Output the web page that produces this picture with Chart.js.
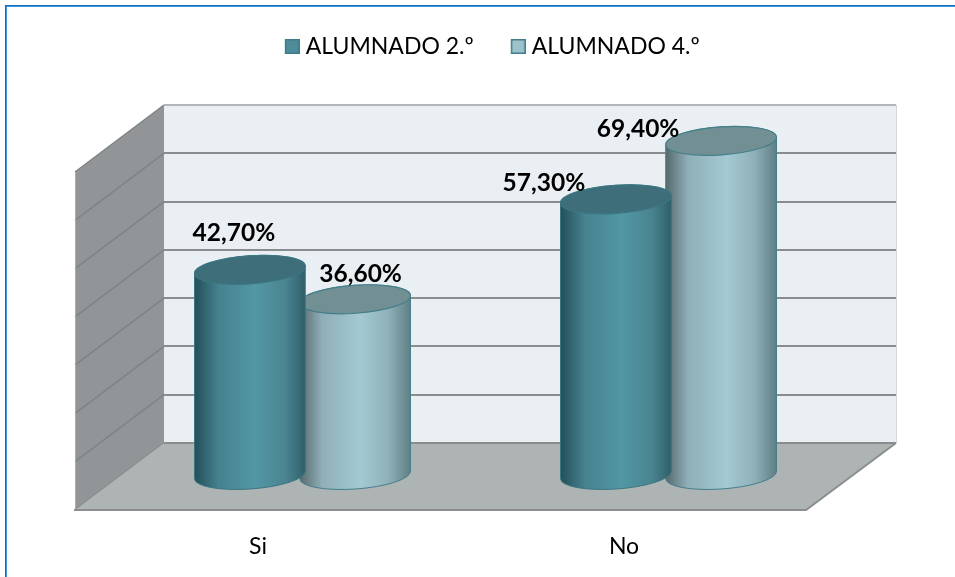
<!DOCTYPE html>
<html><head><meta charset="utf-8">
<script src="https://cdn.jsdelivr.net/npm/chart.js@4"></script>
<style>html,body{margin:0;padding:0;background:#fff}#w{position:relative;width:955px;height:577px}</style>
</head><body><div id="w"><canvas id="c" width="955" height="577"></canvas></div>
<script>
const categories = ['Si', 'No'];
const seriesNames = ['ALUMNADO 2.º', 'ALUMNADO 4.º'];
const alumnado2 = [42.7, 57.3];
const alumnado4 = [36.6, 69.4];
const yTicks = [0, 10, 20, 30, 40, 50, 60, 70];

const DEPTH_X = 89, DEPTH_Y = 67;           // wall depth
const BAR_X = -44.5, BAR_Y = 33;            // bars stand halfway along the floor
const RX_SCALE = 1.055, RY = 14, TILT = -0.07;
const LABEL_SHIFT = [[[-16, -37], [-72, -16.5]], [[5.5, -25], [-83, -11.5]]];
const FILLS = [
  {top:'#3e6e7a', stroke:'#3c7682', g:[[0,'#234f59'],[.22,'#468290'],[.55,'#5297a4'],[.82,'#4a8491'],[1,'#2f5f69']]},
  {top:'#728f94', stroke:'#437f8b', g:[[0,'#56696c'],[.2,'#8faeb8'],[.55,'#a3c9d2'],[.8,'#90b0b9'],[1,'#5f7f85']]}
];
const LEGEND_FILL = ['#4f8c99', '#9cc3cb'];
const LEGEND_EDGE = ['#3d7c88', '#437f8b'];

// legend swatch: 15px square sitting in the right part of a wider transparent image
function swatch(fill, edge) {
  const cv = document.createElement('canvas');
  cv.width = 26; cv.height = 15;
  const c = cv.getContext('2d');
  c.fillStyle = fill; c.fillRect(11, 0, 15, 15);
  c.strokeStyle = edge; c.lineWidth = 1.5; c.strokeRect(11.75, .75, 13.5, 13.5);
  return cv;
}

const scene = {
  id: 'scene',
  afterLayout(chart) { chart.legend.top -= 37; chart.legend.bottom -= 37; },
  beforeDraw(chart) {
    const {ctx, chartArea: a, scales: {y}} = chart;
    ctx.save();
    ctx.fillStyle = '#e9eff2';
    ctx.fillRect(a.left, a.top, a.right - a.left, a.bottom - a.top);
    ctx.fillStyle = '#929597';
    ctx.beginPath();
    ctx.moveTo(a.left, a.top); ctx.lineTo(a.left - DEPTH_X, a.top + DEPTH_Y);
    ctx.lineTo(a.left - DEPTH_X, a.bottom + DEPTH_Y); ctx.lineTo(a.left, a.bottom);
    ctx.closePath(); ctx.fill();
    ctx.strokeStyle = '#7f8385'; ctx.lineWidth = 1.5;
    yTicks.forEach(v => {
      const p = y.getPixelForValue(v);
      ctx.beginPath(); ctx.moveTo(a.left, p); ctx.lineTo(a.left - DEPTH_X, p + DEPTH_Y); ctx.stroke();
    });
    ctx.strokeStyle = '#a9adae'; ctx.lineWidth = 1;
    ctx.beginPath(); ctx.moveTo(a.left - DEPTH_X + .5, a.top + DEPTH_Y); ctx.lineTo(a.left - DEPTH_X + .5, a.bottom + DEPTH_Y); ctx.stroke();
    ctx.strokeStyle = '#d5d8da';
    ctx.beginPath(); ctx.moveTo(a.right + .5, a.top); ctx.lineTo(a.right + .5, a.bottom); ctx.stroke();
    ctx.fillStyle = '#aeb3b3';
    ctx.beginPath();
    ctx.moveTo(a.left, a.bottom); ctx.lineTo(a.right, a.bottom);
    ctx.lineTo(a.right - DEPTH_X - 1, a.bottom + DEPTH_Y); ctx.lineTo(a.left - DEPTH_X, a.bottom + DEPTH_Y);
    ctx.closePath(); ctx.fill();
    ctx.strokeStyle = '#8b8e8f'; ctx.lineWidth = 2;
    ctx.beginPath();
    ctx.moveTo(a.right, a.bottom); ctx.lineTo(a.right - DEPTH_X - 1, a.bottom + DEPTH_Y);
    ctx.lineTo(a.left - DEPTH_X - 1, a.bottom + DEPTH_Y); ctx.stroke();
    ctx.restore();
  },
  beforeDatasetDraw(chart, args) {
    const {ctx} = chart, f = FILLS[args.index];
    args.meta.data.forEach(bar => {
      const cx = bar.x + BAR_X, yt = bar.y + BAR_Y, yb = bar.base + BAR_Y, rx = bar.width / 2 * RX_SCALE;
      const t = Math.atan(-(RY / rx) * Math.tan(TILT));
      const g = ctx.createLinearGradient(cx - rx, 0, cx + rx, 0);
      f.g.forEach(s => g.addColorStop(s[0], s[1]));
      ctx.save();
      ctx.beginPath();
      ctx.ellipse(cx, yb, rx, RY, TILT, t, Math.PI + t, false);
      ctx.ellipse(cx, yt, rx, RY, TILT, Math.PI + t, 2 * Math.PI + t, false);
      ctx.closePath();
      ctx.fillStyle = g; ctx.fill();
      ctx.strokeStyle = f.stroke; ctx.lineWidth = 1; ctx.stroke();
      ctx.beginPath();
      ctx.ellipse(cx, yt, rx, RY, TILT, 0, 2 * Math.PI);
      ctx.fillStyle = f.top; ctx.fill();
      ctx.strokeStyle = f.stroke; ctx.lineWidth = 1.2; ctx.stroke();
      ctx.restore();
    });
    return false;
  },
  afterDraw(chart) {
    const {ctx, width, height} = chart;
    ctx.save();
    ctx.font = 'bold 24.5px Lato';
    ctx.fillStyle = '#000';
    ctx.textAlign = 'center'; ctx.textBaseline = 'middle';
    chart.data.datasets.forEach((ds, d) => {
      chart.getDatasetMeta(d).data.forEach((bar, i) => {
        const txt = ds.data[i].toFixed(2).replace('.', ',') + '%';
        ctx.fillText(txt, bar.x + BAR_X + LABEL_SHIFT[d][i][0], bar.y + BAR_Y + LABEL_SHIFT[d][i][1]);
      });
    });
    // frame: only the top and left edges show
    ctx.fillStyle = '#1a6db5';
    ctx.fillRect(5, 5, width - 5, 1);
    ctx.fillRect(5, 5, 1, height - 5);
    ctx.fillStyle = '#3a95e0';
    ctx.fillRect(6, 6, width - 6, 1);
    ctx.fillRect(6, 6, 1, height - 6);
    ctx.restore();
  }
};

new Chart(document.getElementById('c'), {
  type: 'bar',
  data: {
    labels: categories,
    datasets: [
      {label: seriesNames[0], data: alumnado2, backgroundColor: LEGEND_FILL[0], borderColor: LEGEND_EDGE[0], borderWidth: 1.5, categoryPercentage: .575, barPercentage: 1},
      {label: seriesNames[1], data: alumnado4, backgroundColor: LEGEND_FILL[1], borderColor: LEGEND_EDGE[1], borderWidth: 1.5, categoryPercentage: .575, barPercentage: 1}
    ]
  },
  options: {
    responsive: false, animation: false,
    layout: {padding: {left: 83, right: 59, top: 40.5, bottom: 0}},
    plugins: {
      tooltip: {enabled: false},
      legend: {
        position: 'top',
        labels: {
          usePointStyle: true, pointStyleWidth: 15, boxHeight: 15, padding: 31.5, color: '#000',
          font: {family: 'Lato', size: 23},
          generateLabels(chart) {
            return Chart.defaults.plugins.legend.labels.generateLabels(chart).map((it, i) => {
              it.pointStyle = swatch(LEGEND_FILL[i], LEGEND_EDGE[i]);
              return it;
            });
          }
        }
      }
    },
    scales: {
      x: {
        grid: {display: false}, border: {display: false},
        ticks: {color: '#000', font: {family: 'Lato', size: 23}, padding: 82, labelOffset: -89, maxRotation: 0},
        afterFit(s) { s.height = 134; }
      },
      y: {
        min: 0, max: 70,
        grid: {color: c => c.tick && c.tick.value === 70 ? '#b4b7b8' : '#8a8c8d', lineWidth: 2, drawTicks: false}, border: {display: false},
        ticks: {display: false, stepSize: 10},
        afterFit(s) { s.width = 81; }
      }
    }
  },
  plugins: [scene]
});
</script></body></html>
